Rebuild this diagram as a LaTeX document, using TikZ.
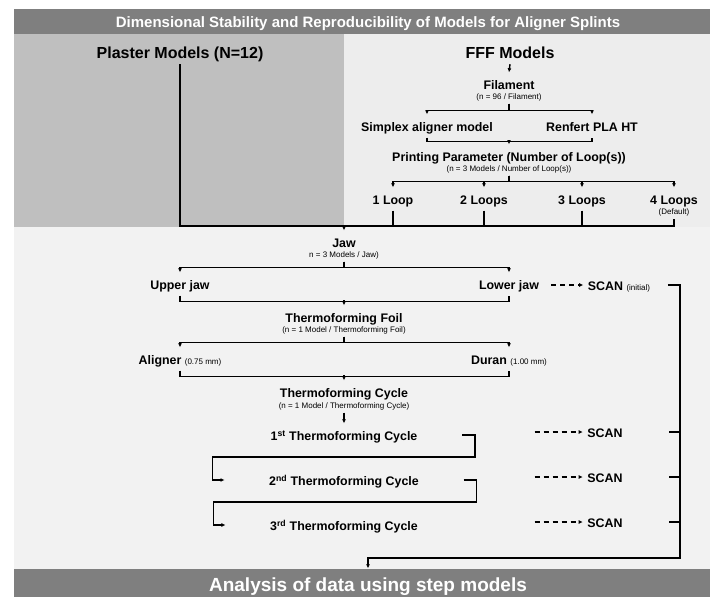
\documentclass[tikz,border=0pt]{standalone}
\usepackage{fontspec}
\setmainfont{Liberation Sans}
\usetikzlibrary{arrows.meta}
\definecolor{bardark}{HTML}{7F7F7F}
\definecolor{plastergray}{HTML}{BFBFBF}
\definecolor{fffgray}{HTML}{EDEDED}
\definecolor{lowgray}{HTML}{F2F2F2}
\newcommand{\smtxt}{\mdseries\fontsize{8}{9}\selectfont}
\tikzset{
  lbl/.style={font=\bfseries\fontsize{12.4}{14}\selectfont, anchor=base, yshift=-4.5pt,
    inner xsep=0pt, inner ysep=3pt, text height=13.5pt, text depth=2.5pt},
  sub/.style={font=\fontsize{8}{9}\selectfont, anchor=base, yshift=-2.9pt,
    inner xsep=0pt, inner ysep=1pt, text height=6pt, text depth=2.1pt},
  head/.style={font=\bfseries\fontsize{16}{18}\selectfont, anchor=base, yshift=-5.8pt,
    inner xsep=0pt, inner ysep=2.5pt, text height=11.5pt, text depth=2.7pt},
  cyc/.style={lbl, inner xsep=44pt},
  bartxt/.style={text=white, anchor=base, inner sep=0pt},
  scanarr/.style={->, dash pattern=on 5pt off 4pt},
  >={Latex[length=4pt,width=4pt]}
}
\begin{document}
\begin{tikzpicture}[x=1pt,y=-1pt,line width=1.4pt]
\useasboundingbox (0,0) rectangle (710,597);
\fill[bardark] (14,9) rectangle (710,34);
\fill[plastergray] (14,34) rectangle (344,227);
\fill[fffgray] (344,34) rectangle (710,227);
\fill[lowgray] (14,227) rectangle (710,569);
\fill[bardark] (14,569) rectangle (710,597);
\node[bartxt, font=\bfseries\fontsize{15}{18}\selectfont] (title) at (368,27.3)
  {Dimensional Stability and Reproducibility of Models for Aligner Splints};
\node[bartxt, font=\bfseries\fontsize{19}{22}\selectfont, text height=22pt] (ana) at (368,591)
  {Analysis of data using step models};

\node[head] (plaster) at (180,52.5) {Plaster Models (N=12)};
\node[head] (fff) at (510,52.5) {FFF Models};
\node[lbl] (fil) at (509,85) {Filament};
\node[sub] (filsub) at (509,97) {(n = 96 / Filament)};
\node[lbl] (simplex) at (427,127) {Simplex aligner model};
\node[lbl] (renfert) at (592,127) {Renfert PLA HT};
\node[lbl] (print) at (509,157) {Printing Parameter (Number of Loop(s))};
\node[sub] (printsub) at (509,169) {(n = 3 Models / Number of Loop(s))};
\foreach \n/\x/\t in {loop1/393/1 Loop, loop2/484/2 Loops, loop3/582/3 Loops, loop4/674/4 Loops}
  \node[lbl] (\n) at (\x,200) {\t};
\node[sub] (defsub) at (674,212) {(Default)};

\draw[->] (fff.south) -- (fil.north);
\foreach \n in {simplex,renfert}
  \draw[->] (filsub.south) |- ([yshift=4pt]\n.north) -- (\n.north);
\draw (simplex.south) -- ++(0,4) -| (renfert.south);
\draw[->] ([yshift=4pt]print.north) -- (print.north);
\foreach \n in {loop1,loop2,loop3,loop4}
  \draw[->] (printsub.south) |- ([yshift=6pt]\n.north) -- (\n.north);

\coordinate (mrg) at (344,226);
\draw (plaster.south) |- (mrg) -| (defsub.south);
\foreach \n in {loop1,loop2,loop3}
  \draw (\n.south) -- (\n.south |- mrg);

\node[lbl] (jaw) at (344,243) {Jaw};
\node[sub] (jawsub) at (344,255) {n = 3 Models / Jaw)};
\node[lbl] (upper) at (180,285) {Upper jaw};
\node[lbl] (lower) at (509,285) {Lower jaw};
\node[lbl] (foil) at (344,318) {Thermoforming Foil};
\node[sub] (foilsub) at (344,330) {(n = 1 Model / Thermoforming Foil)};
\node[lbl] (aligner) at (180,360) {Aligner {\smtxt(0.75 mm)}};
\node[lbl] (duran) at (509,360) {Duran {\smtxt(1.00 mm)}};
\node[lbl] (cycle) at (344,393) {Thermoforming Cycle};
\node[sub] (cyclesub) at (344,406) {(n = 1 Model / Thermoforming Cycle)};
\node[cyc] (c1) at (344,436) {1\textsuperscript{st} Thermoforming Cycle};
\node[cyc] (c2) at (344,481) {2\textsuperscript{nd} Thermoforming Cycle};
\node[cyc] (c3) at (344,526) {3\textsuperscript{rd} Thermoforming Cycle};

\draw[->] (mrg) -- (jaw.north);
\foreach \n in {upper,lower}
  \draw[->] (jawsub.south) |- ([yshift=5pt]\n.north) -- (\n.north);
\draw (upper.south) -- ++(0,6) -| (lower.south);
\draw[->] ([yshift=5pt]foil.north) -- (foil.north);
\foreach \n in {aligner,duran}
  \draw[->] (foilsub.south) |- ([yshift=5pt]\n.north) -- (\n.north);
\draw (aligner.south) -- ++(0,6) -| (duran.south);
\draw[->] ([yshift=5pt]cycle.north) -- (cycle.north);
\draw[->] (cyclesub.south) -- (c1.north);
\foreach \a/\b in {c1/c2, c2/c3}
  \draw[->] (\a.east) -- ++(13,0) -- ++(0,22) -| ([xshift=-12pt]\b.west) -- (\b.west);

\node[lbl] (s0) at (619,286) {SCAN {\smtxt(initial)}};
\foreach \n/\y in {s1/433, s2/478, s3/523}
  \node[lbl] (\n) at (605,\y) {SCAN};
\coordinate (ldash) at (551,285);
\draw[scanarr] (ldash) -- ([xshift=-4pt]s0.west);
\foreach \n in {s1,s2,s3}
  \draw[scanarr] ([xshift=-52pt]\n.west) -- ([xshift=-4pt]\n.west);

\coordinate (rb) at (680,558);
\draw[->] ([xshift=17pt]s0.east) -| (rb) -| (ana.north);
\foreach \n in {s1,s2,s3}
  \draw ([xshift=46pt]\n.east) -- (\n.east -| rb);
\end{tikzpicture}
\end{document}
